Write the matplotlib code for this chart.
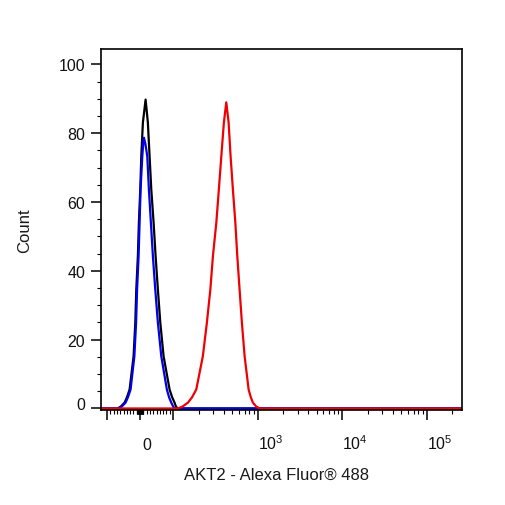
import matplotlib
matplotlib.use('Agg')
import matplotlib.pyplot as plt
from matplotlib.ticker import FixedLocator, FixedFormatter, NullFormatter
import matplotlib.transforms as mtransforms

plt.rcParams['font.family'] = ['Liberation Sans', 'DejaVu Sans']

# ---- data ----
black_x = [-118, -100, -68, -58, -47, -40, -31.8, -19.7, -14.5, -11.5, -6.7, -3.6, 0.6, 3.6,
           8.5, 16.7, 23.6, 28.8, 33.9, 40.9, 47, 53.9, 61.2, 71.2, 89.4, 97, 104, 108, 113, 262143]
black_y = [0, 0, 0, 0.6, 1.7, 3.2, 5.5, 15.2, 25, 34.6, 44.3, 54.1, 63.7, 73.3,
           83.1, 89.8, 83.1, 73.3, 63.7, 54.1, 44.3, 34.6, 25, 15.2, 5.5, 3.3, 1.7, 0.6, 0, 0]

blue_x = [-118, -65, -55, -44, -37, -28.8, -17.3, -12.1, -9.1, -4.5, -1.5, 1.5, 6.7, 9.5, 11.5,
          16, 21.8, 26.7, 32.7, 38.8, 46, 53.9, 64.2, 81.2, 88, 94.5, 100, 104, 262143]
blue_y = [0, 0, 0.6, 1.7, 3.2, 5.5, 15.2, 25, 34.6, 44.3, 54.1, 63.7, 73.3, 77, 78.7,
          77, 73.3, 63.7, 54.1, 44.3, 34.6, 25, 15.2, 5.5, 3.2, 1.7, 0.6, 0, 0]

red_x = [-118, 100, 114, 130, 150, 168, 188, 225, 251, 276, 296, 325, 348, 372, 399, 426,
         454, 479, 510, 545, 575, 612, 652, 702, 783, 830, 880, 960, 1056, 262143]
red_y = [0, 0, 0, 0.6, 1.7, 3.3, 5.5, 15.2, 24.9, 34.6, 44.3, 54.1, 63.7, 73.3, 83.1, 89.0,
         83.1, 73.3, 63.7, 54.1, 44.3, 34.6, 24.9, 15.2, 5.5, 3.3, 1.7, 0.6, 0, 0]

x_major = [-100, 0, 100, 1000, 10000, 100000]
x_major_labels = ['', '0', '', r'$\mathregular{10^3}$', r'$\mathregular{10^4}$', r'$\mathregular{10^5}$']
x_minor = ([-v for v in range(10, 100, 10)] + [-v for v in range(1, 10)] + list(range(1, 10)) +
           list(range(10, 100, 10)) + list(range(200, 1000, 100)) + list(range(2000, 10000, 1000)) +
           list(range(20000, 100000, 10000)) + [200000])
y_major = [0, 20, 40, 60, 80, 100]
y_minor = [5, 10, 15, 25, 30, 35, 45, 50, 55, 65, 70, 75, 85, 90, 95]

x_label = 'AKT2 - Alexa Fluor® 488'
y_label = 'Count'

# ---- figure ----
fig = plt.figure(figsize=(5.06, 5.06), dpi=100)
ax = fig.add_axes([101/506, 95.5/506, 361/506, 360.5/506])

ax.plot(black_x, black_y, color='#000000', lw=1.6, solid_joinstyle='round')
ax.plot(blue_x, blue_y, color='#0000f0', lw=1.6, solid_joinstyle='round')
ax.plot(red_x, red_y, color='#f00000', lw=1.6, solid_joinstyle='round')

ax.set_xscale('symlog', linthresh=100, linscale=0.3515)
ax.set_xlim(-118, 262143)
ax.set_ylim(-0.3, 104.5)

ax.xaxis.set_major_locator(FixedLocator(x_major))
ax.xaxis.set_major_formatter(FixedFormatter(x_major_labels))
ax.xaxis.set_minor_locator(FixedLocator(x_minor))
ax.xaxis.set_minor_formatter(NullFormatter())
ax.yaxis.set_major_locator(FixedLocator(y_major))
ax.yaxis.set_minor_locator(FixedLocator(y_minor))
ax.yaxis.set_minor_formatter(NullFormatter())

for s in ax.spines.values():
    s.set_linewidth(1.2)
    s.set_color('black')

ax.tick_params(axis='both', which='major', direction='out', length=7.2, width=1.1,
               labelsize=11.5, labelcolor='#111111')
ax.tick_params(axis='both', which='minor', direction='out', length=2.9, width=0.8)
ax.tick_params(axis='x', which='major', pad=21.2)
ax.tick_params(axis='y', which='major', pad=4.3)

fig.canvas.draw()
for lab in ax.get_xticklabels():
    lab.set_ha('left')
    lab.set_va('baseline')
    if lab.get_text() == '0':
        lab.set_transform(lab.get_transform() +
                          mtransforms.ScaledTranslation(2.5/100, 0, fig.dpi_scale_trans))
for lab in ax.get_yticklabels():
    if lab.get_text() == '0':
        lab.set_transform(lab.get_transform() +
                          mtransforms.ScaledTranslation(0, 5/100, fig.dpi_scale_trans))

ax.set_xlabel(x_label, fontsize=12, color='#1a1a1a', va='top')
ax.xaxis.set_label_coords(0.4856, -0.1595)
ax.set_ylabel(y_label, fontsize=12, color='#1a1a1a')
ax.yaxis.set_label_coords(-0.19, 0.5)

fig.savefig('out.png', dpi=100)
